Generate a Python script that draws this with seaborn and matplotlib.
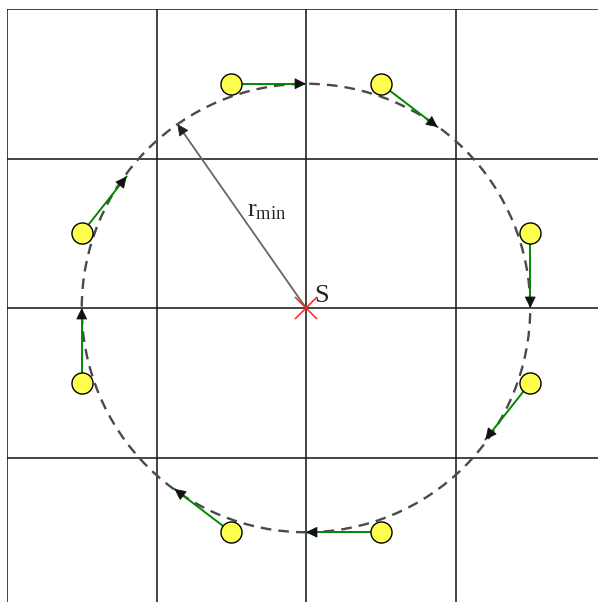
import numpy as np
import matplotlib
matplotlib.use("Agg")
import matplotlib.pyplot as plt
import seaborn as sns
import pandas as pd
from matplotlib.patches import FancyArrowPatch, Circle

sns.set_style("white")
plt.rcParams['mathtext.fontset'] = 'custom'
plt.rcParams['mathtext.rm'] = 'Liberation Serif'
plt.rcParams['mathtext.it'] = 'Liberation Serif:italic'

# data (grid units, source S at origin)
grid_lines = [-2, -1, 0, 1, 2]
r_min = 1.5
point_x = [-0.5, 0.5, 1.5, 1.5, 0.5, -0.5, -1.5, -1.5]
point_y = [1.5, 1.5, 0.5, -0.5, -1.5, -1.5, -0.5, 0.5]
target_x = [0.0, 0.88, 1.5, 1.2, 0.0, -0.88, -1.5, -1.2]
target_y = [1.5, 1.21, 0.0, -0.88, -1.5, -1.21, 0.0, 0.88]
rmin_tip = (-0.86, 1.23)

df = pd.DataFrame({"x": point_x, "y": point_y})

W, H = 598, 602
fig = plt.figure(figsize=(W / 100, H / 100), dpi=100)
unit = 149.5
cx, cy = 306, 308
left = cx - 2 * unit
top = cy - 2 * unit
ax = fig.add_axes([left / W, (H - (top + 4 * unit)) / H, 4 * unit / W, 4 * unit / H])
ax.set_xlim(-2, 2)
ax.set_ylim(-2, 2)
ax.set_axis_off()

for g in grid_lines:
    ax.axvline(g, color='#1a1a1a', lw=1.15, zorder=1)
    ax.axhline(g, color='#1a1a1a', lw=1.15, zorder=1)

circ = Circle((0, 0), r_min, fill=False, edgecolor='#4a4a4a', lw=1.7,
              linestyle=(0, (4.5, 3)), zorder=2)
ax.add_patch(circ)

# r_min line
ax.plot([0, rmin_tip[0]], [0, rmin_tip[1]], color='#666666', lw=1.3, zorder=3)
d = np.array(rmin_tip) / np.hypot(*rmin_tip)
ax.add_patch(FancyArrowPatch(tuple(np.array(rmin_tip) - 0.06 * d), rmin_tip,
                             arrowstyle='-|>,head_length=4.5,head_width=2.2',
                             color='#222222', lw=0.6, shrinkA=0, shrinkB=0,
                             mutation_scale=1.6, zorder=4))

# green arrows
for px, py, tx, ty in zip(point_x, point_y, target_x, target_y):
    ax.plot([px, tx], [py, ty], color='#008800', lw=1.4, zorder=3)
    v = np.array([tx - px, ty - py])
    v = v / np.hypot(*v)
    ax.add_patch(FancyArrowPatch((tx - 0.06 * v[0], ty - 0.06 * v[1]), (tx, ty),
                                 arrowstyle='-|>,head_length=4.5,head_width=2.2',
                                 color='#111111', lw=0.6, shrinkA=0, shrinkB=0,
                                 mutation_scale=1.6, zorder=4))

sns.scatterplot(data=df, x="x", y="y", ax=ax, s=230, color='#ffff50',
                edgecolor='black', linewidth=1.0, zorder=5, legend=False)
ax.set_xlim(-2, 2)
ax.set_ylim(-2, 2)
ax.set_axis_off()

ax.plot([0], [0], marker='x', color='#ff2020', markersize=16, mew=1.1, zorder=6)

ax.text(-0.395, 0.615, r'$\mathrm{r}_{\mathrm{min}}$', fontsize=19,
        ha='left', va='baseline', zorder=7)
ax.text(0.054, 0.04, 'S', fontsize=19, family='Liberation Serif',
        ha='left', va='baseline', zorder=7)

fig.savefig('out.png', dpi=100)
